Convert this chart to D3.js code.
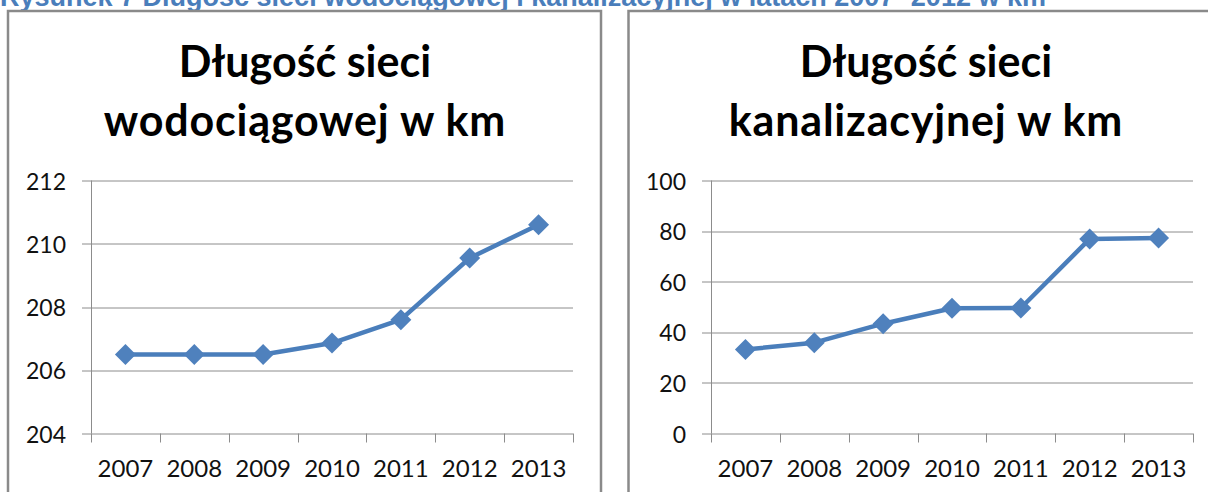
<!DOCTYPE html>
<html>
<head>
<meta charset="utf-8">
<script src="https://cdn.jsdelivr.net/npm/d3@7"></script>
<style>
  body { margin: 0; background: #fff; overflow: hidden; }
  svg { display: block; }
</style>
</head>
<body>
<div class="canvas"></div>
<script>
// data
const years = ['2007', '2008', '2009', '2010', '2011', '2012', '2013'];
const waterValues = [206.5, 206.5, 206.5, 206.86, 207.6, 209.55, 210.6];
const sewerValues = [33.2, 35.9, 43.4, 49.5, 49.6, 76.9, 77.3];
const waterTicks = [204, 206, 208, 210, 212];
const sewerTicks = [0, 20, 40, 60, 80, 100];
const waterTitle = ['Długość sieci', 'wodociągowej w km'];
const sewerTitle = ['Długość sieci', 'kanalizacyjnej w km'];
const caption = 'Rysunek 7 Długość sieci wodociągowej i kanalizacyjnej w latach 2007- 2012 w km';

const svg = d3.select('.canvas')
    .append('svg')
    .attr('width', 1208)
    .attr('height', 492);

const font = 'Lato, "Open Sans", sans-serif';

// caption, cut off at the top like in the scan
svg.append('text')
    .attr('x', 0)
    .attr('y', 6)
    .attr('fill', '#4a7ebb')
    .attr('font-family', '"Liberation Sans", Arial, sans-serif')
    .attr('font-weight', 'bold')
    .attr('font-size', 27)
    .text(caption);

const drawChart = (frame, plot, title, titleX, values, ticks) => {

    // outer chart border
    svg.append('rect')
        .attr('x', frame.x)
        .attr('y', frame.y)
        .attr('width', frame.w)
        .attr('height', 600)
        .attr('fill', 'none')
        .attr('stroke', '#8a8a8a')
        .attr('stroke-width', 2.5);

    // title
    const t = svg.append('text')
        .attr('text-anchor', 'middle')
        .attr('font-family', font)
        .attr('font-weight', 'bold')
        .attr('font-size', 43)
        .attr('fill', '#000');
    title.forEach((line, i) => {
        t.append('tspan')
            .attr('x', titleX)
            .attr('y', 77 + i * 59)
            .attr('letter-spacing', i === 1 ? 0.8 : 0)
            .text(line);
    });

    const width = plot.right - plot.left;
    const height = plot.bottom - plot.top;

    const graph = svg.append('g')
        .attr('transform', `translate(${plot.left},${plot.top})`);

    const x = d3.scaleBand()
        .domain(years)
        .range([0, width]);

    const y = d3.scaleLinear()
        .domain(d3.extent(ticks))
        .range([height, 0]);

    // gridlines with short outer ticks
    graph.selectAll('.grid')
        .data(ticks)
        .enter()
        .append('line')
        .attr('x1', -9)
        .attr('x2', width)
        .attr('y1', d => Math.round(y(d)) + 0.5)
        .attr('y2', d => Math.round(y(d)) + 0.5)
        .attr('stroke', '#8c8c8c')
        .attr('stroke-width', 1);

    // y labels
    graph.selectAll('.ylab')
        .data(ticks)
        .enter()
        .append('text')
        .attr('x', -25)
        .attr('y', d => y(d) + 1)
        .attr('dy', '0.35em')
        .attr('text-anchor', 'end')
        .attr('font-family', font)
        .attr('font-size', 23)
        .attr('fill', '#111')
        .text(d => d);

    // y axis line
    graph.append('line')
        .attr('x1', 0.5).attr('x2', 0.5)
        .attr('y1', 0).attr('y2', height)
        .attr('stroke', '#8c8c8c');

    // x axis: ticks between categories
    const xAxis = d3.axisBottom(x)
        .tickSize(0)
        .tickPadding(26);

    const xAxisGroup = graph.append('g')
        .attr('transform', `translate(0, ${height})`)
        .call(xAxis);

    xAxisGroup.select('.domain').remove();
    xAxisGroup.selectAll('text')
        .attr('font-family', font)
        .attr('font-size', 24)
        .attr('fill', '#111');

    const bounds = years.map(d => x(d)).concat([width]);
    graph.selectAll('.xtick')
        .data(bounds)
        .enter()
        .append('line')
        .attr('x1', d => Math.round(d) + 0.5)
        .attr('x2', d => Math.round(d) + 0.5)
        .attr('y1', height)
        .attr('y2', height + 9)
        .attr('stroke', '#8c8c8c');

    // series line
    const line = d3.line()
        .x((d, i) => x(years[i]) + x.bandwidth() / 2)
        .y(d => y(d));

    graph.append('path')
        .datum(values)
        .attr('d', line)
        .attr('fill', 'none')
        .attr('stroke', '#4a7ebb')
        .attr('stroke-width', 4.5)
        .attr('stroke-linejoin', 'round');

    // diamond markers (rotated squares)
    const marker = d3.symbol().type(d3.symbolSquare).size(220);
    graph.selectAll('.marker')
        .data(values)
        .enter()
        .append('path')
        .attr('d', marker)
        .attr('transform', (d, i) =>
            `translate(${x(years[i]) + x.bandwidth() / 2},${y(d)}) rotate(45)`)
        .attr('fill', '#4f81bd');
};

drawChart({ x: 8, y: 11, w: 593 },
    { left: 91, right: 573, top: 180.5, bottom: 433.5 },
    waterTitle, 305, waterValues, waterTicks);

drawChart({ x: 628.5, y: 11, w: 600 },
    { left: 711, right: 1193, top: 180.5, bottom: 433.5 },
    sewerTitle, 926, sewerValues, sewerTicks);
</script>
</body>
</html>
